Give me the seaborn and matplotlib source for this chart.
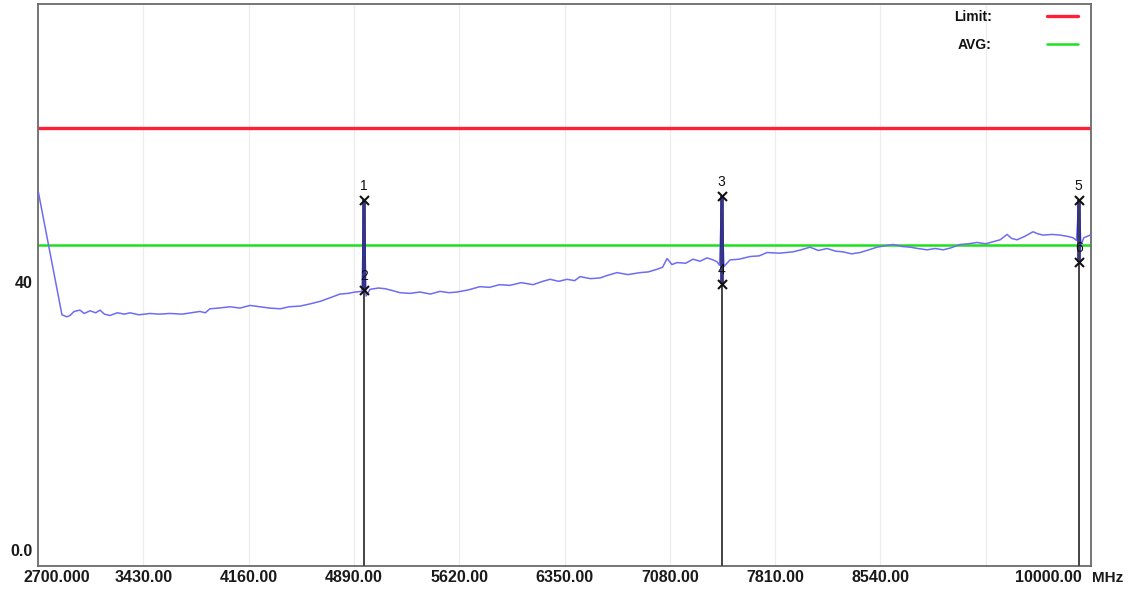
import numpy as np
import pandas as pd
import matplotlib
matplotlib.use("Agg")
import matplotlib.pyplot as plt
import seaborn as sns
from matplotlib.transforms import ScaledTranslation

# ---------------- data ----------------
freq = [2700, 2866, 2900, 2922, 2950, 2991, 3020, 3061, 3100, 3130, 3160, 3199,
        3250, 3300, 3338, 3400, 3477, 3540, 3615, 3700, 3760, 3823, 3860, 3892,
        3950, 4031, 4100, 4170, 4240, 4308, 4380, 4440, 4516, 4580, 4655, 4720,
        4794, 4850, 4898, 4946, 4960, 4974, 5002, 5060, 5106, 5160, 5210, 5280,
        5348, 5420, 5487, 5550, 5605, 5680, 5764, 5830, 5900, 5972, 6050, 6132,
        6200, 6250, 6310, 6368, 6420, 6458, 6530, 6596, 6650, 6714, 6790, 6874,
        6930, 6992, 7030, 7061, 7095, 7130, 7190, 7241, 7290, 7338, 7380, 7408,
        7425, 7440, 7455, 7498, 7560, 7636, 7700, 7754, 7840, 7934, 7990, 8052,
        8110, 8170, 8230, 8281, 8340, 8399, 8460, 8517, 8570, 8628, 8690, 8746,
        8800, 8864, 8920, 8975, 9030, 9092, 9150, 9210, 9270, 9321, 9370, 9418,
        9450, 9487, 9540, 9598, 9630, 9668, 9730, 9786, 9840, 9876, 9900, 9915,
        9930, 9950, 9994, 10000]
level = [53.7, 35.1, 34.8, 35.0, 35.6, 35.8, 35.3, 35.7, 35.4, 35.8, 35.2, 35.0,
         35.4, 35.2, 35.4, 35.1, 35.3, 35.2, 35.3, 35.2, 35.4, 35.6, 35.4, 36.0,
         36.1, 36.3, 36.1, 36.5, 36.3, 36.1, 36.0, 36.3, 36.4, 36.7, 37.1, 37.6,
         38.2, 38.3, 38.5, 38.6, 52.2, 37.9, 38.9, 39.1, 39.0, 38.7, 38.4, 38.3,
         38.5, 38.2, 38.6, 38.4, 38.5, 38.8, 39.3, 39.2, 39.6, 39.5, 39.9, 39.6,
         40.1, 40.4, 40.1, 40.4, 40.2, 40.8, 40.5, 40.6, 41.0, 41.4, 41.1, 41.4,
         41.5, 41.9, 42.2, 43.5, 42.6, 42.9, 42.8, 43.4, 43.1, 43.6, 43.3, 43.0,
         42.5, 52.8, 42.3, 43.3, 43.4, 43.8, 43.9, 44.4, 44.3, 44.5, 44.8, 45.2,
         44.7, 45.0, 44.6, 44.5, 44.2, 44.4, 44.8, 45.2, 45.4, 45.6, 45.3, 45.2,
         45.0, 44.8, 45.0, 44.8, 45.1, 45.6, 45.7, 45.9, 45.7, 46.0, 46.3, 47.1,
         46.5, 46.3, 46.8, 47.5, 47.2, 47.0, 47.1, 47.0, 46.8, 46.6, 46.2, 52.2,
         45.5, 46.6, 47.0, 47.1]

limit_level = 63.0
avg_level = 45.5

marker_ids = ["1", "2", "3", "4", "5", "6"]
marker_freq = [4960, 4960, 7440, 7440, 9915, 9915]
marker_level = [52.2, 38.8, 52.8, 39.7, 52.2, 43.0]

xtick_values = [2700, 3430, 4160, 4890, 5620, 6350, 7080, 7810, 8540, 9270, 10000]
xtick_labels = ["2700.000", "3430.00", "4160.00", "4890.00", "5620.00", "6350.00",
                "7080.00", "7810.00", "8540.00", "", "10000.00"]
ytick_values = [0, 40]
ytick_labels = ["0.0", "40"]

# ---------------- style ----------------
sns.set_theme(style="white")
plt.rcParams["font.family"] = ["Liberation Sans", "DejaVu Sans"]

W, H = 1136, 591
fig = plt.figure(figsize=(W / 100, H / 100), dpi=100)
L, R, T, B = 38, 1091, 4, 566
ax = fig.add_axes([L / W, 1 - B / H, (R - L) / W, (B - T) / H])

ymin, ymax = -2.4, 81.5
ax.set_xlim(2700, 10000)
ax.set_ylim(ymin, ymax)

# faint vertical grid
for xv in xtick_values[1:-1]:
    ax.axvline(xv, color="#ededed", lw=0.9, zorder=0)

df = pd.DataFrame({"freq": freq, "level": level})
sns.lineplot(data=df, x="freq", y="level", ax=ax, color="#6e6cf2", lw=1.1,
             sort=False, estimator=None, zorder=3)

ax.axhline(limit_level, color="#ff2038", lw=2.4, label="Limit:", zorder=2)
ax.axhline(avg_level, color="#1ee01e", lw=1.8, label="AVG:", zorder=2)

# dark spikes between marker pairs
for i in range(0, len(marker_ids), 2):
    ax.vlines(marker_freq[i], marker_level[i + 1], marker_level[i],
              color="#1a14b0", lw=2.6, zorder=4)

# marker lines down to the axis bottom
for f, lv in zip(marker_freq, marker_level):
    ax.vlines(f, ymin, lv, color="#444444", lw=1.2, zorder=5)

ax.scatter(marker_freq, marker_level, marker="x", s=42, color="#111111",
           linewidths=1.5, zorder=6)
for mid, f, lv in zip(marker_ids, marker_freq, marker_level):
    ax.annotate(mid, (f, lv), xytext=(0, 10), textcoords="offset points",
                ha="center", va="center", fontsize=10, color="#111111", zorder=7)

# ticks
tick_font = {"fontsize": 11.5, "color": "#1a1a1a", "fontweight": "bold"}
ax.set_xticks(xtick_values)
ax.set_xticklabels(xtick_labels, **tick_font)
ax.set_yticks(ytick_values)
ax.set_yticklabels(ytick_labels, **tick_font)
ax.tick_params(axis="both", length=0)
ax.tick_params(axis="x", pad=3)
ax.tick_params(axis="y", pad=4)

xl = ax.get_xticklabels()
xl[0].set_ha("left")
xl[0].set_transform(xl[0].get_transform() + ScaledTranslation(-0.15, 0, fig.dpi_scale_trans))
xl[-1].set_ha("right")
xl[-1].set_transform(xl[-1].get_transform() + ScaledTranslation(-0.09, 0, fig.dpi_scale_trans))

ax.set_xlabel("MHz", fontsize=11, color="#1a1a1a", fontweight="bold")
ax.xaxis.set_label_coords(1.016, -0.009)
ax.set_ylabel("")

for s in ax.spines.values():
    s.set_color("#6a6a6a")
    s.set_linewidth(1.3)

leg = ax.legend(loc="upper right", bbox_to_anchor=((1078 - L) / (R - L), 1 - (10 - T) / (B - T)),
                markerfirst=False, frameon=False, handlelength=2.2, handletextpad=4.0,
                labelspacing=1.0, borderaxespad=0, borderpad=0,
                prop={"weight": "bold", "size": 10})
for t in leg.get_texts():
    t.set_color("#111111")

fig.savefig("out.png", dpi=100)
